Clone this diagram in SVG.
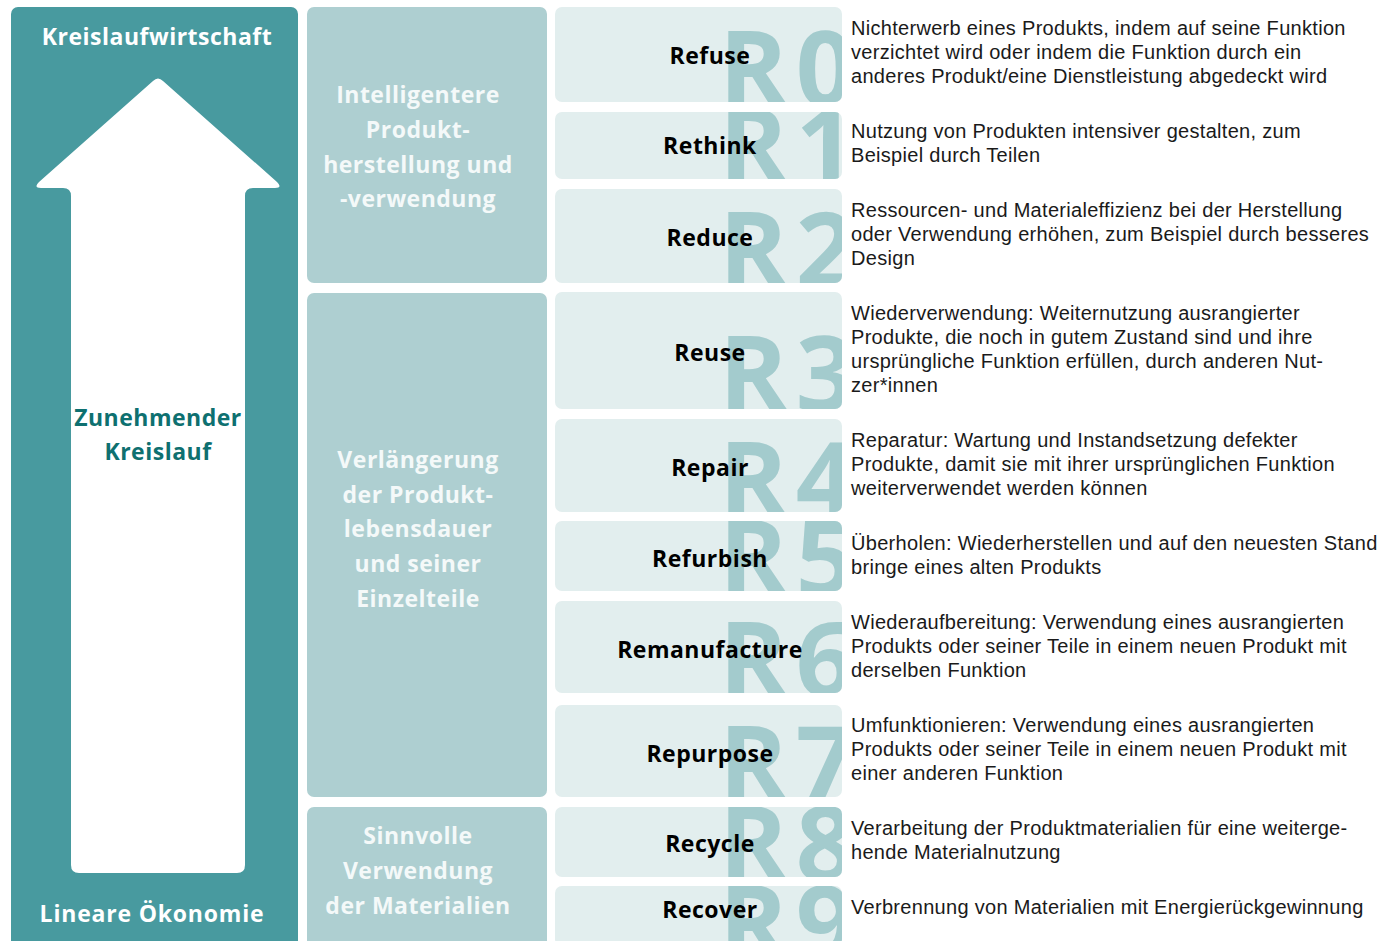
<svg xmlns="http://www.w3.org/2000/svg" width="1393" height="941" viewBox="0 0 1393 941">
<style>
.panel{fill:#489a9f}
.mid{fill:#aecfd1}
.rbox{fill:#e2eeee}
.rnum{font-family:"Open Sans","DejaVu Sans",sans-serif;font-weight:700;font-size:104px;fill:#a3cbcd;letter-spacing:8px}
.lbl{font-family:"Open Sans","DejaVu Sans",sans-serif;font-weight:700;font-size:23px;letter-spacing:0.5px;fill:#000;text-anchor:middle}
.midt{font-family:"Open Sans","DejaVu Sans",sans-serif;font-weight:700;font-size:23px;letter-spacing:0.5px;fill:#f4f9f9;text-anchor:middle}
.head{font-family:"Open Sans","DejaVu Sans",sans-serif;font-weight:700;font-size:23px;letter-spacing:0.5px;fill:#ffffff;text-anchor:middle}
.zun{font-family:"Open Sans","DejaVu Sans",sans-serif;font-weight:700;font-size:23px;letter-spacing:0.5px;fill:#0e7070;text-anchor:middle}
.desc{font-family:"Liberation Sans","Arial",sans-serif;font-size:20px;letter-spacing:0.3px;fill:#1a1a1a}
</style>
<defs>
<clipPath id="c0"><rect x="555" y="7" width="287" height="95" rx="7"/></clipPath>
<clipPath id="c1"><rect x="555" y="112" width="287" height="67" rx="7"/></clipPath>
<clipPath id="c2"><rect x="555" y="189" width="287" height="94" rx="7"/></clipPath>
<clipPath id="c3"><rect x="555" y="292" width="287" height="117" rx="7"/></clipPath>
<clipPath id="c4"><rect x="555" y="419" width="287" height="93" rx="7"/></clipPath>
<clipPath id="c5"><rect x="555" y="521" width="287" height="70" rx="7"/></clipPath>
<clipPath id="c6"><rect x="555" y="601" width="287" height="92" rx="7"/></clipPath>
<clipPath id="c7"><rect x="555" y="705" width="287" height="92" rx="7"/></clipPath>
<clipPath id="c8"><rect x="555" y="807" width="287" height="70" rx="7"/></clipPath>
<clipPath id="c9"><rect x="555" y="886" width="287" height="60" rx="7"/></clipPath>
</defs>
<rect width="1393" height="941" fill="#ffffff"/>

<g id="left-panel">
<rect class="panel" x="11" y="7" width="287" height="940" rx="7"/>
<text class="head" x="157" y="45">Kreislaufwirtschaft</text>
<path fill="#ffffff" d="M153,81 Q158,76 163,81 L277,182 Q283,188 275,188 L253,188 Q245,188 245,196 L245,865 Q245,873 237,873 L79,873 Q71,873 71,865 L71,196 Q71,188 63,188 L41,188 Q33,188 39,182 Z"/>
<text class="zun" x="158" y="426">Zunehmender</text>
<text class="zun" x="158" y="460">Kreislauf</text>
<text class="head" x="152" y="922" style="letter-spacing:0.8px">Lineare Ökonomie</text>
</g>

<g id="cat-1">
<rect class="mid" x="307" y="7" width="240" height="276" rx="7"/>
<text class="midt" x="418" y="103">Intelligentere</text>
<text class="midt" x="418" y="138">Produkt-</text>
<text class="midt" x="418" y="173">herstellung und</text>
<text class="midt" x="418" y="207">-verwendung</text>
</g>
<g id="cat-2">
<rect class="mid" x="307" y="293" width="240" height="504" rx="7"/>
<text class="midt" x="418" y="468">Verlängerung</text>
<text class="midt" x="418" y="503">der Produkt-</text>
<text class="midt" x="418" y="537">lebensdauer</text>
<text class="midt" x="418" y="572">und seiner</text>
<text class="midt" x="418" y="607">Einzelteile</text>
</g>
<g id="cat-3">
<rect class="mid" x="307" y="807" width="240" height="140" rx="7"/>
<text class="midt" x="418" y="844">Sinnvolle</text>
<text class="midt" x="418" y="879">Verwendung</text>
<text class="midt" x="418" y="914">der Materialien</text>
</g>

<g id="r0">
<rect class="rbox" x="555" y="7" width="287" height="95" rx="7"/>
<text class="rnum" x="719" y="106" clip-path="url(#c0)">R0</text>
<text class="lbl" x="710" y="64">Refuse</text>
<text class="desc"><tspan x="851" y="35">Nichterwerb eines Produkts, indem auf seine Funktion</tspan><tspan x="851" y="59">verzichtet wird oder indem die Funktion durch ein</tspan><tspan x="851" y="83">anderes Produkt/eine Dienstleistung abgedeckt wird</tspan></text>
</g>
<g id="r1">
<rect class="rbox" x="555" y="112" width="287" height="67" rx="7"/>
<text class="rnum" x="719" y="183" clip-path="url(#c1)">R1</text>
<text class="lbl" x="710" y="154">Rethink</text>
<text class="desc"><tspan x="851" y="138">Nutzung von Produkten intensiver gestalten, zum</tspan><tspan x="851" y="162">Beispiel durch Teilen</tspan></text>
</g>
<g id="r2">
<rect class="rbox" x="555" y="189" width="287" height="94" rx="7"/>
<text class="rnum" x="719" y="287" clip-path="url(#c2)">R2</text>
<text class="lbl" x="710" y="246">Reduce</text>
<text class="desc"><tspan x="851" y="217">Ressourcen- und Materialeffizienz bei der Herstellung</tspan><tspan x="851" y="241">oder Verwendung erhöhen, zum Beispiel durch besseres</tspan><tspan x="851" y="265">Design</tspan></text>
</g>
<g id="r3">
<rect class="rbox" x="555" y="292" width="287" height="117" rx="7"/>
<text class="rnum" x="719" y="411" clip-path="url(#c3)">R3</text>
<text class="lbl" x="710" y="361">Reuse</text>
<text class="desc"><tspan x="851" y="320">Wiederverwendung: Weiternutzung ausrangierter</tspan><tspan x="851" y="344">Produkte, die noch in gutem Zustand sind und ihre</tspan><tspan x="851" y="368">ursprüngliche Funktion erfüllen, durch anderen Nut-</tspan><tspan x="851" y="392">zer*innen</tspan></text>
</g>
<g id="r4">
<rect class="rbox" x="555" y="419" width="287" height="93" rx="7"/>
<text class="rnum" x="719" y="517" clip-path="url(#c4)">R4</text>
<text class="lbl" x="710" y="476">Repair</text>
<text class="desc"><tspan x="851" y="447">Reparatur: Wartung und Instandsetzung defekter</tspan><tspan x="851" y="471">Produkte, damit sie mit ihrer ursprünglichen Funktion</tspan><tspan x="851" y="495">weiterverwendet werden können</tspan></text>
</g>
<g id="r5">
<rect class="rbox" x="555" y="521" width="287" height="70" rx="7"/>
<text class="rnum" x="719" y="595" clip-path="url(#c5)">R5</text>
<text class="lbl" x="710" y="567">Refurbish</text>
<text class="desc"><tspan x="851" y="550">Überholen: Wiederherstellen und auf den neuesten Stand</tspan><tspan x="851" y="574">bringe eines alten Produkts</tspan></text>
</g>
<g id="r6">
<rect class="rbox" x="555" y="601" width="287" height="92" rx="7"/>
<text class="rnum" x="719" y="697" clip-path="url(#c6)">R6</text>
<text class="lbl" x="710" y="658">Remanufacture</text>
<text class="desc"><tspan x="851" y="629">Wiederaufbereitung: Verwendung eines ausrangierten</tspan><tspan x="851" y="653">Produkts oder seiner Teile in einem neuen Produkt mit</tspan><tspan x="851" y="677">derselben Funktion</tspan></text>
</g>
<g id="r7">
<rect class="rbox" x="555" y="705" width="287" height="92" rx="7"/>
<text class="rnum" x="719" y="801" clip-path="url(#c7)">R7</text>
<text class="lbl" x="710" y="762">Repurpose</text>
<text class="desc"><tspan x="851" y="732">Umfunktionieren: Verwendung eines ausrangierten</tspan><tspan x="851" y="756">Produkts oder seiner Teile in einem neuen Produkt mit</tspan><tspan x="851" y="780">einer anderen Funktion</tspan></text>
</g>
<g id="r8">
<rect class="rbox" x="555" y="807" width="287" height="70" rx="7"/>
<text class="rnum" x="719" y="881" clip-path="url(#c8)">R8</text>
<text class="lbl" x="710" y="852">Recycle</text>
<text class="desc"><tspan x="851" y="835">Verarbeitung der Produktmaterialien für eine weiterge-</tspan><tspan x="851" y="859">hende Materialnutzung</tspan></text>
</g>
<g id="r9">
<rect class="rbox" x="555" y="886" width="287" height="60" rx="7"/>
<text class="rnum" x="719" y="960" clip-path="url(#c9)">R9</text>
<text class="lbl" x="710" y="918">Recover</text>
<text class="desc"><tspan x="851" y="914">Verbrennung von Materialien mit Energierückgewinnung</tspan></text>
</g>
<g id="connectors"/>
</svg>
